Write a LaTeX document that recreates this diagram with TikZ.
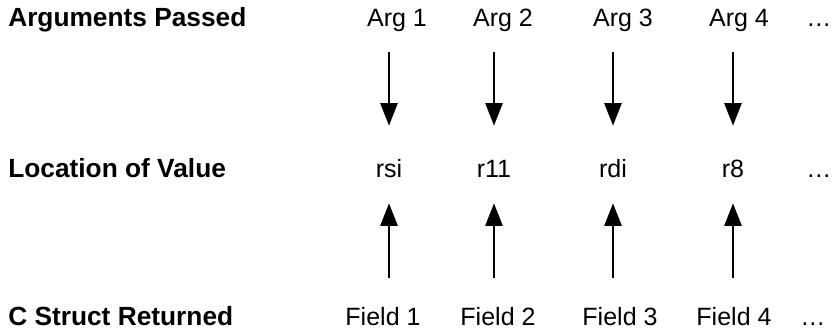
\documentclass[tikz,border=0pt]{standalone}
\usepackage{fontspec}
\setmainfont{Liberation Sans}
\usetikzlibrary{arrows.meta, positioning}

\tikzset{
    rowlabel/.style={anchor=base west, inner sep=0pt, font=\fontsize{18.7}{22}\selectfont\bfseries},
    cell/.style={anchor=base, inner sep=0pt, text height=0.45cm, text depth=0pt, font=\fontsize{17.8}{21}\selectfont},
    flow/.style={-{Triangle[length=16pt, width=12pt]}, line width=2pt},
}

\begin{document}
\begin{tikzpicture}
    \useasboundingbox (0,0) rectangle (20.8,8.2);
    % Row labels
    \node[rowlabel] (args) at (0.2,7.525) {Arguments Passed};
    \node[rowlabel] (locs) at (0.2,3.75) {Location of Value};
    \node[rowlabel] (rets) at (0.2,0.05) {C Struct Returned};
    % One column per argument
    \foreach \i/\xa/\xr/\xf/\reg in {1/9.925/9.725/9.575/rsi, 2/12.575/12.35/12.45/r11, 3/15.575/15.325/15.5/rdi, 4/18.475/18.325/18.35/r8} {
        \node[cell] (arg\i) at (\xa,7.525) {Arg \i};
        \node[cell] (reg\i) at (\xr,3.75) {\reg};
        \node[cell] (field\i) at (\xf,0.05) {Field \i};
        \draw[flow, shorten <=0.625cm, shorten >=0.85cm] (arg\i.south -| reg\i) -- (reg\i.north);
        \draw[flow, shorten <=0.75cm, shorten >=0.625cm] (field\i.north -| reg\i) -- (reg\i.south);
    }
    % And so on
    \node[cell] (argmore) at (20.475,7.525) {…};
    \node[cell] (regmore) at (20.475,3.75) {…};
    \node[cell] (fieldmore) at (20.325,0.05) {…};
\end{tikzpicture}
\end{document}
